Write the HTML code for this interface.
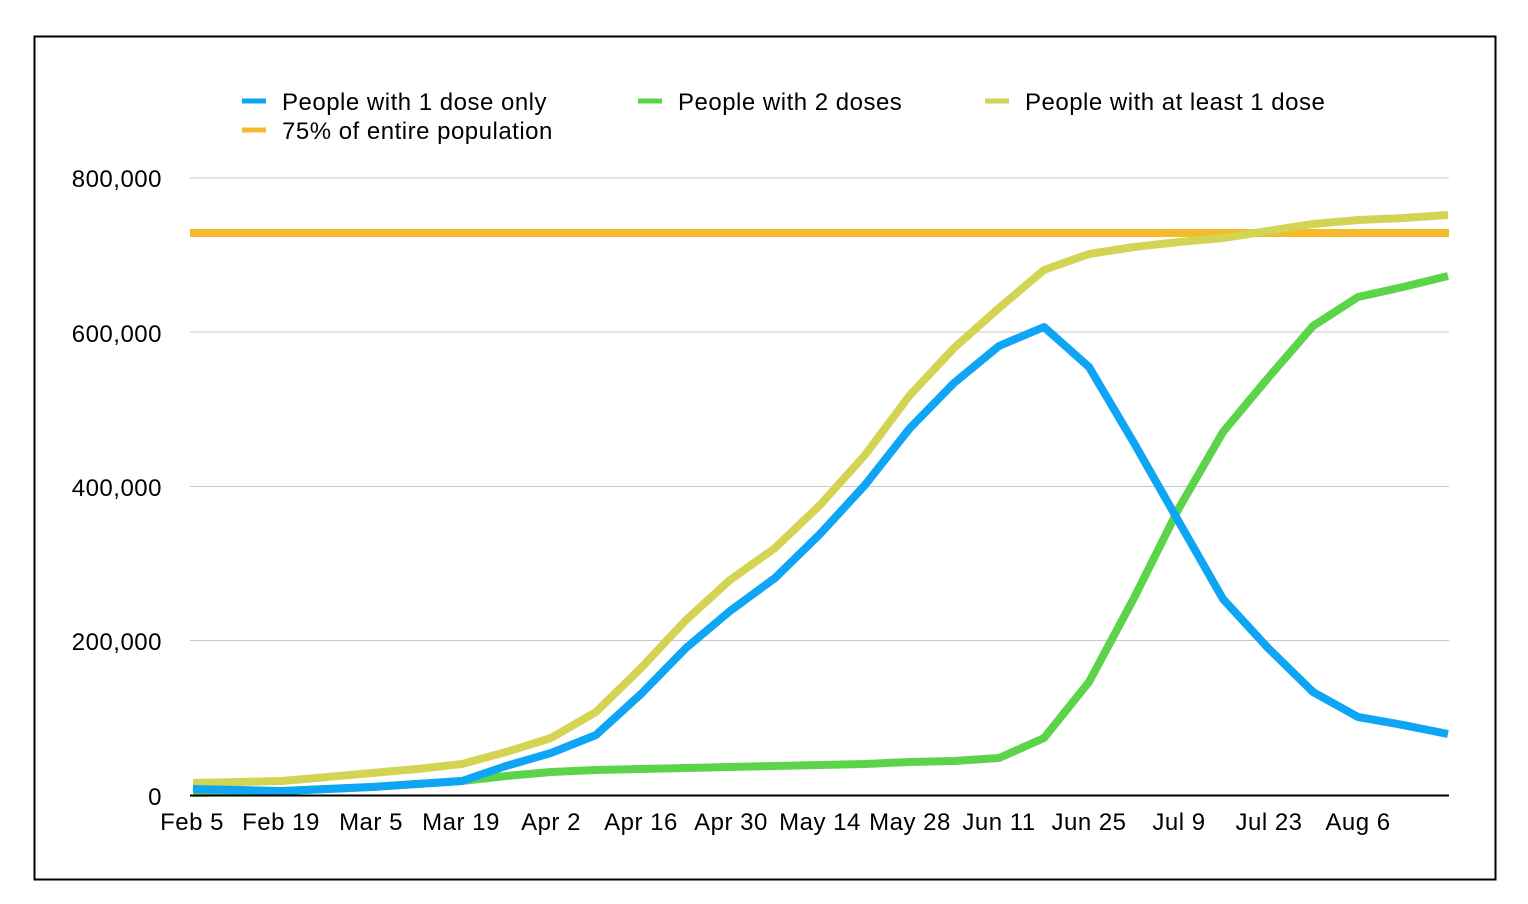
<!DOCTYPE html>
<html><head><meta charset="utf-8"><style>
html,body{margin:0;padding:0;background:#fff;}
svg{display:block;}
text{font-family:"Liberation Sans",Arial,sans-serif;font-size:24px;fill:#000;letter-spacing:0.5px;}
</style></head><body>
<svg width="1528" height="904" viewBox="0 0 1528 904" xmlns="http://www.w3.org/2000/svg">
<rect x="0" y="0" width="1528" height="904" fill="#fff"/>
<rect x="34.5" y="36.5" width="1461" height="843" fill="none" stroke="#000" stroke-width="2"/>
<g stroke="#c8c8c8" stroke-width="1">
<line x1="190" y1="178" x2="1449" y2="178"/>
<line x1="190" y1="332" x2="1449" y2="332"/>
<line x1="190" y1="486.5" x2="1449" y2="486.5"/>
<line x1="190" y1="640.5" x2="1449" y2="640.5"/>
</g>
<g text-anchor="end">
<text x="162" y="187">800,000</text>
<text x="162" y="342">600,000</text>
<text x="162" y="496">400,000</text>
<text x="162" y="650">200,000</text>
<text x="162" y="805">0</text>
</g>
<g text-anchor="middle">
<text x="192" y="830">Feb 5</text>
<text x="281" y="830">Feb 19</text>
<text x="371" y="830">Mar 5</text>
<text x="461" y="830">Mar 19</text>
<text x="551" y="830">Apr 2</text>
<text x="641" y="830">Apr 16</text>
<text x="731" y="830">Apr 30</text>
<text x="820" y="830">May 14</text>
<text x="910" y="830">May 28</text>
<text x="999" y="830">Jun 11</text>
<text x="1089" y="830">Jun 25</text>
<text x="1179" y="830">Jul 9</text>
<text x="1269" y="830">Jul 23</text>
<text x="1358" y="830">Aug 6</text>
</g>
<line x1="190" y1="233" x2="1449" y2="233" stroke="#f5b92c" stroke-width="8"/>
<g fill="none" stroke-width="8" stroke-linejoin="round">
<polyline stroke="#5bd44a" points="193,793 238,792 282,791 327,789 372,787 417,784 462,781 506,776 551,772 596,770 641,769 686,768 730,767 775,766 820,765 865,764 910,762 954,761 999,758 1044,738 1089,682 1134,598 1179,508 1223,432 1268,378 1313,326 1358,297 1403,287 1448,276"/>
<polyline stroke="#d4d454" points="193,783 238,782 282,781 327,777 372,773 417,769 462,764 506,752 551,738 596,712 641,668 686,620 730,580 775,548 820,505 865,455 910,395 954,348 999,308 1044,270 1089,254 1134,247 1179,242 1223,238 1268,231 1313,224 1358,220 1403,218 1448,215"/>
<polyline stroke="#0ea5f5" points="193,789 238,790 282,791 327,789 372,787 417,784 462,781 506,766 551,753 596,735 641,694 686,648 730,611 775,578 820,534 865,485 910,428 954,383 999,346 1044,327 1089,367 1134,443 1179,522 1223,599 1268,648 1313,692 1358,717 1403,725 1448,734"/>
</g>
<line x1="190" y1="795.5" x2="1449" y2="795.5" stroke="#000" stroke-width="2"/>
<g stroke-width="5">
<line x1="242" y1="101" x2="266" y2="101" stroke="#0ea5f5"/>
<line x1="638" y1="101" x2="662" y2="101" stroke="#5bd44a"/>
<line x1="985" y1="101" x2="1009" y2="101" stroke="#d4d454"/>
<line x1="242" y1="130" x2="266" y2="130" stroke="#f5b92c"/>
</g>
<text x="282" y="110">People with 1 dose only</text>
<text x="678" y="110">People with 2 doses</text>
<text x="1025" y="110">People with at least 1 dose</text>
<text x="282" y="139">75% of entire population</text>
</svg>
</body></html>
